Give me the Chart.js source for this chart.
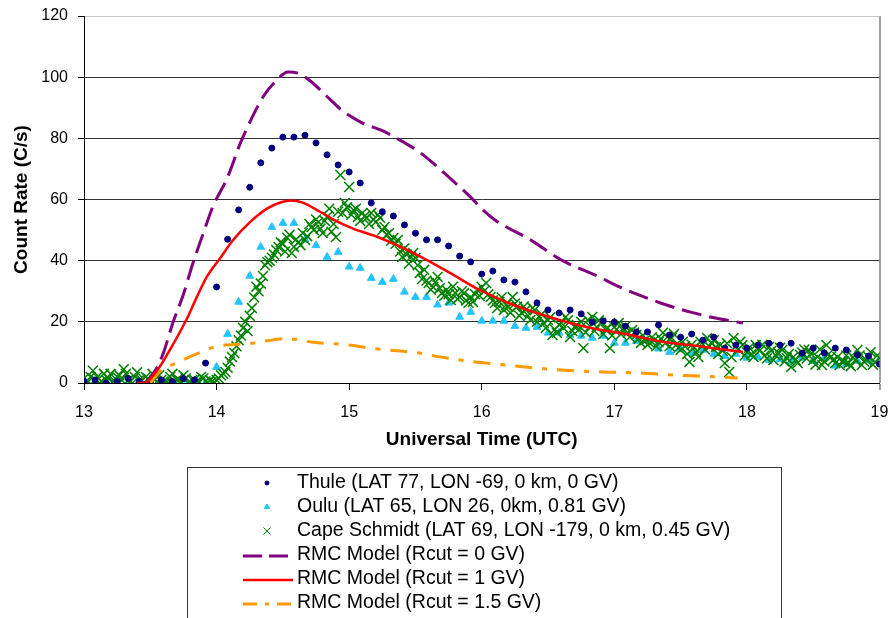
<!DOCTYPE html>
<html>
<head>
<meta charset="utf-8">
<script src="https://cdn.jsdelivr.net/npm/chart.js@4.4.1/dist/chart.umd.min.js"></script>
<style>
    body { margin: 0; background: #fff; }
</style>
</head>
<body>
<canvas id="gle-chart" width="888" height="618"></canvas>
<script>
// station counts: Thule / Oulu every 5 min from 13:00 UTC
const thuleRate = [
    0.5, 1, 0, 0.5, 1.5, 0.5, 0, 1, 0.5, 1.5, 1, 6.5,
    31.4, 47, 56.6, 64, 72, 76.8, 80.4, 80.4, 81, 78.5, 74.6, 71.3,
    69, 65.4, 58.9, 56, 54.6, 51.7, 49, 46.8, 46.8, 44.8, 41.5, 39.6,
    35.6, 36.6, 33.7, 33, 29.8, 26.2, 23.9, 22.9, 23.9, 22.6, 19.9, 20.3,
    19.9, 18.6, 16.7, 16.7, 19, 15.7, 15, 16, 14, 15, 11.4, 12.4,
    11.4, 12.4, 13, 12.4, 13, 9.8, 11.4, 9.8, 11.4, 10.8, 9.2, 8.8,
    6.2
];
const ouluRate = [
    0.5, 0, 0.5, 1, 0, 0.5, 0, 0.5, 0, 1, 0.5, 0,
    5.2, 16, 26.5, 35, 44.5, 51, 52.3, 52.3, 46.8, 45, 41.2, 42.8,
    38, 37.6, 34.3, 33, 34, 29.8, 28.1, 28.1, 25.6, 26.2, 21.6, 23.2,
    20.3, 20.3, 20.3, 18.6, 18, 18.3, 16.4, 16.4, 15.7, 15.4, 14.7, 15.4,
    13.1, 13.1, 13.7, 14, 11.2, 10.1, 11.1, 9.8, 10.8, 9.5, 8.8, 9.5,
    8.2, 8.5, 7.5, 7.8, 7.2, 8.2, 7.2, 8.2, 5.6, 6.2, 7.2, 7.5,
    7.5
];
// Cape Schmidt, 1-min counts split in even minutes (13:00, 13:02 ...) and odd minutes (13:01, 13:03 ...)
const capeEven = [
    1.5, 0.5, 4, 2, 0.5, 1, 3, 0.5, 2.5, 4.5,
    1, 0, 3.5, 1, 2, 0.5, 1, 2.5, 0.5, 0,
    3, 1, 0.5, 1.5, 0, 1, 0.5, 1.5, 0, 0.5,
    1, 2.5, 3.6, 7, 9.8, 14, 18, 17, 24.5, 31.5,
    32.5, 38.5, 40, 42, 44.5, 45.5, 47.5, 42.5, 47, 45,
    46.8, 52, 50, 52.6, 49, 54.3, 49.5, 47.7, 68, 58.9,
    64.1, 56.5, 54.3, 55.6, 54, 55.6, 52.6, 54, 51, 49,
    47.4, 46.8, 41.2, 42, 41.2, 40.9, 36, 37, 32.7, 31.4,
    34.7, 29.4, 30.4, 27.1, 29.4, 28.1, 29.4, 26.2, 26.5, 30.4,
    31.4, 32.7, 28.1, 26.2, 26.5, 23.9, 24.9, 28.1, 24.9, 22.9,
    23.9, 20.6, 23.9, 21.6, 19.6, 20.6, 15.7, 16.4, 19.6, 21.6,
    15, 18.3, 17.5, 11.4, 20.6, 21.6, 18.3, 19.6, 17.5, 11.4,
    18.3, 19.6, 17.3, 16.5, 17.3, 15.7, 13.1, 14, 13.1, 14,
    13.4, 16.4, 15, 14.7, 12.5, 10.8, 12, 6.9, 11.5, 8.5,
    12.5, 14.7, 13, 11.8, 12.4, 6.5, 3.6, 14.7, 11, 12.4,
    10.1, 9.5, 12.4, 10.8, 9, 11.8, 7.5, 10, 10.8, 8.2,
    5.2, 7.5, 9.2, 11, 10.8, 7.5, 8.5, 5.9, 12.4, 8.5,
    6.5, 5.9, 7, 6.5, 8.5, 10.8, 5.9, 7.5, 10.1, 6.9,
    8
];
const capeOdd = [
    0.5, 2, 1, 0, 3, 1.5, 0.5, 2, 1, 3,
    0.5, 2, 1, 0, 1.5, 3, 0.5, 1, 0, 2,
    0.5, 1, 2.5, 0, 1, 0, 2, 0.5, 1, 0,
    1.5, 3, 5, 8.5, 12, 15.5, 20, 22, 28, 30,
    35, 39.5, 41, 43.5, 46, 43, 48.5, 44.5, 46, 49,
    48, 51, 53.5, 50.5, 53, 57, 52, 56, 55.6, 57.5,
    55, 57, 53, 54.5, 52, 53.5, 55, 50, 48.5, 46.5,
    45.5, 43, 44, 39, 42.5, 38.5, 34, 33.5, 30.5, 33,
    31, 28.5, 29, 31.5, 27.5, 30, 27, 28, 29, 28.5,
    30, 29, 27, 24.5, 28, 25.5, 23, 26, 22, 25,
    22, 24.5, 20, 22.5, 18, 21.5, 17.5, 19, 18, 20.5,
    17, 19, 20, 16.5, 18.5, 17, 20.5, 16, 18, 15.5,
    17.5, 16, 18.5, 15, 16.5, 14.5, 15.5, 12.5, 15, 12,
    14.5, 13, 12, 16, 11.5, 13.5, 9.5, 12.5, 10, 13.5,
    11, 12, 14, 9.5, 10.5, 13, 8.5, 12, 13.5, 9,
    11.5, 8.5, 11, 12.5, 8, 10.5, 9, 11.5, 7, 9.5,
    8.5, 6.5, 10, 8, 9.5, 6, 11, 7, 9.5, 7.5,
    8.5, 7, 9, 5.5, 7.5, 9, 7, 8.5, 6, 9
];

// RMC model curves
const rmc0Time = [13.47, 13.55, 13.6, 13.67, 13.75, 13.82, 13.9, 13.97, 14.08, 14.18, 14.27, 14.35, 14.44, 14.54, 14.62, 14.7, 14.85, 14.95, 15.1, 15.25, 15.4, 15.53, 15.76, 15.91, 16.0, 16.11, 16.36, 16.61, 16.87, 17.06, 17.36, 17.59, 17.79, 17.97];
const rmc0Rate = [0, 5, 10, 19.6, 29, 39, 49, 57.5, 67, 78.5, 87, 93.5, 98.4, 101.7, 101.2, 99, 93, 89, 85, 82.5, 79, 75.5, 67, 61, 57, 53, 47, 40, 35, 31, 26, 23, 21, 19.6];
const rmc1Time = [13.4, 13.45, 13.55, 13.65, 13.77, 13.85, 13.93, 14.03, 14.12, 14.25, 14.38, 14.48, 14.56, 14.65, 14.78, 14.9, 15.03, 15.23, 15.53, 15.76, 15.98, 16.21, 16.51, 16.79, 17.12, 17.36, 17.57, 17.97];
const rmc1Rate = [0, 0, 4, 11, 20.5, 28, 35, 41, 46.5, 52.5, 57, 59, 59.7, 59, 56, 53, 50.5, 47.5, 41.5, 36, 30.5, 26, 21.6, 18.3, 15.7, 13.5, 12.4, 10.1];
const rmc15Time = [13.5, 13.57, 13.72, 13.85, 14.0, 14.23, 14.38, 14.53, 14.73, 14.98, 15.23, 15.53, 15.66, 15.93, 16.04, 16.49, 16.91, 17.19, 17.49, 17.79, 17.93];
const rmc15Rate = [0, 3.6, 7, 9.5, 12, 12.8, 13.8, 14.5, 13.3, 12.5, 11, 9.8, 8.7, 7, 6.5, 4.6, 3.6, 3.3, 2.5, 2, 1.6];

const xTicks = [13, 14, 15, 16, 17, 18, 19];
const yTicks = [0, 20, 40, 60, 80, 100, 120];

const seriesLabels = [
    "Thule (LAT 77, LON -69, 0 km, 0 GV)",
    "Oulu (LAT 65, LON 26, 0km, 0.81 GV)",
    "Cape Schmidt (LAT 69, LON -179, 0 km, 0.45 GV)",
    "RMC Model (Rcut = 0 GV)",
    "RMC Model (Rcut = 1 GV)",
    "RMC Model (Rcut = 1.5 GV)",
];

// readings on a fixed cadence, starting at 13:00 + offset minutes
function everyMinutes(values, step, offset = 0) {
    return values.map((v, i) => ({ x: 13 + (offset + i * step) / 60, y: v }));
}
function pairUp(times, values) {
    return times.map((t, i) => ({ x: t, y: values[i] }));
}

const FONT = "'Liberation Sans', Arial, sans-serif";
Chart.defaults.font.family = FONT;
Chart.defaults.font.size = 16;
Chart.defaults.color = "#000";

// legend box under the plot, drawn like the spreadsheet one
const boxLegend = {
    id: "boxLegend",
    afterDraw(chart) {
        const c = chart.ctx;
        c.save();
        c.strokeStyle = "#333";
        c.lineWidth = 1;
        c.strokeRect(187.5, 467.5, 594, 200);
        c.font = "19.5px " + FONT;
        c.textBaseline = "middle";
        chart.data.datasets.forEach((ds, row) => {
            const y = 483 + row * 24;
            if (ds.showLine) {
                c.strokeStyle = ds.borderColor;
                c.lineWidth = ds.borderWidth;
                c.setLineDash(ds.legendDash);
                c.beginPath();
                c.moveTo(243, y + 1);
                c.lineTo(293, y + 1);
                c.stroke();
                c.setLineDash([]);
            } else {
                c.fillStyle = ds.backgroundColor;
                c.strokeStyle = ds.borderColor;
                Chart.helpers.drawPoint(c, {
                    pointStyle: ds.pointStyle,
                    radius: ds.legendRadius,
                    borderWidth: ds.pointBorderWidth,
                    rotation: 0,
                }, 267, y);
            }
            c.fillStyle = "#000";
            c.fillText(ds.label, 297, y);
        });
        c.restore();
    },
};

const ctx = document.getElementById("gle-chart").getContext("2d");
const gleChart = new Chart(ctx, {
    type: "scatter",
    data: {
        datasets: [{
                label: seriesLabels[0],
                data: everyMinutes(thuleRate, 5),
                pointStyle: "circle",
                pointRadius: 3,
                backgroundColor: "#000080",
                borderColor: "#000080",
                pointBorderWidth: 1,
                legendRadius: 2,
                order: 4,
            },
            {
                label: seriesLabels[1],
                data: everyMinutes(ouluRate, 5),
                pointStyle: "triangle",
                pointRadius: 4.5,
                backgroundColor: "#22C4FF",
                borderColor: "#22C4FF",
                pointBorderWidth: 1,
                legendRadius: 3,
                order: 6,
            },
            {
                label: seriesLabels[2],
                data: everyMinutes(capeEven, 2).concat(everyMinutes(capeOdd, 2, 1)),
                pointStyle: "crossRot",
                pointRadius: 7,
                backgroundColor: "#008000",
                borderColor: "#008000",
                pointBorderWidth: 1.5,
                legendRadius: 5,
                order: 5,
            },
            {
                label: seriesLabels[3],
                data: pairUp(rmc0Time, rmc0Rate),
                showLine: true,
                pointRadius: 0,
                borderColor: "#800080",
                borderWidth: 3,
                borderDash: [20, 8],
                legendDash: [19, 7],
                cubicInterpolationMode: "monotone",
                order: 2,
            },
            {
                label: seriesLabels[4],
                data: pairUp(rmc1Time, rmc1Rate),
                showLine: true,
                pointRadius: 0,
                borderColor: "#FF0000",
                borderWidth: 2.5,
                borderDash: [],
                legendDash: [],
                cubicInterpolationMode: "monotone",
                order: 1,
            },
            {
                label: seriesLabels[5],
                data: pairUp(rmc15Time, rmc15Rate),
                showLine: true,
                pointRadius: 0,
                borderColor: "#FF9900",
                borderWidth: 3,
                borderDash: [17, 10, 5, 10],
                legendDash: [14, 8, 4, 8],
                cubicInterpolationMode: "monotone",
                order: 3,
            },
        ],
    },
    options: {
        responsive: false,
        animation: false,
        layout: {
            padding: { left: 0, top: 16, right: 8, bottom: 165 },
        },
        scales: {
            x: {
                type: "linear",
                min: 13,
                max: 19,
                afterBuildTicks: (scale) => {
                    scale.ticks = xTicks.map((v) => ({ value: v }));
                },
                afterFit: (scale) => {
                    scale.height = 70;
                    scale.paddingLeft = 0;
                    scale.paddingRight = 0;
                },
                ticks: { padding: 13 },
                grid: {
                    tickLength: 7,
                    color: (c) => (c.tick && c.tick.value === 19 ? "#a0a0a0" : "rgba(0,0,0,0)"),
                    tickColor: (c) => (c.tick && c.tick.value === 19 ? "#a0a0a0" : "#000"),
                    lineWidth: (c) => (c.tick && c.tick.value === 19 ? 2 : 1),
                },
                border: { color: "#000", width: 1 },
                title: {
                    display: true,
                    text: "Universal Time (UTC)",
                    font: { size: 19, weight: "bold" },
                    padding: { top: 0, bottom: 2 },
                },
            },
            y: {
                min: 0,
                max: 120,
                afterBuildTicks: (scale) => {
                    scale.ticks = yTicks.map((v) => ({ value: v }));
                },
                afterFit: (scale) => {
                    scale.width = 84;
                    scale.paddingTop = 0;
                    scale.paddingBottom = 0;
                },
                ticks: { padding: 10 },
                grid: {
                    tickLength: 6,
                    color: (c) => (c.tick && c.tick.value === 120 ? "#c8c8c8" : "#333"),
                    tickColor: "#000",
                },
                border: { color: "#000", width: 1 },
                title: {
                    display: true,
                    text: "Count Rate (C/s)",
                    font: { size: 19, weight: "bold" },
                    padding: { top: 10, bottom: 0 },
                },
            },
        },
        plugins: {
            legend: { display: false },
            tooltip: { enabled: false },
        },
    },
    plugins: [boxLegend],
});
</script>
</body>
</html>
